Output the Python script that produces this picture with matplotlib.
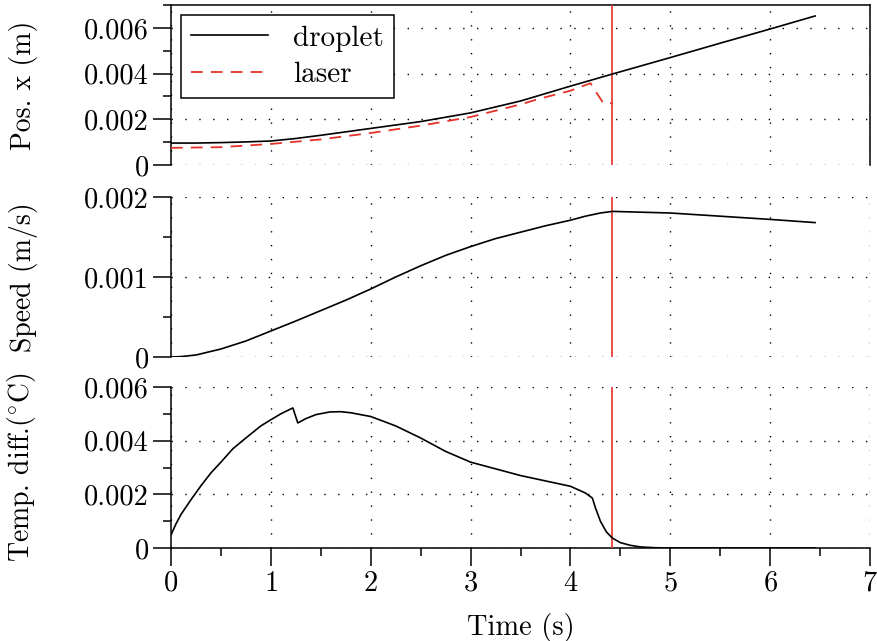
import numpy as np
import matplotlib
matplotlib.use("Agg")
import matplotlib.pyplot as plt
from matplotlib.ticker import MultipleLocator, FuncFormatter

plt.rcParams['font.family'] = ['cmr10', 'DejaVu Serif']
plt.rcParams['mathtext.fontset'] = 'cm'
plt.rcParams['axes.formatter.use_mathtext'] = True
plt.rcParams['font.size'] = 20

# droplet position (m)
t_pos = [0, 0.25, 0.5, 0.75, 1.0, 1.25, 1.5, 1.75, 2.0, 2.5, 3.0, 3.5, 4.0,
         4.42, 5.0, 5.5, 6.0, 6.45]
pos = [0.00096, 0.00096, 0.00098, 0.00101, 0.00105, 0.00116, 0.0013, 0.00145,
       0.0016, 0.0019, 0.00228, 0.0028, 0.00345, 0.00398, 0.0047, 0.00533,
       0.00595, 0.00652]

# laser position (m)
t_laser = [0, 0.5, 1.0, 1.5, 2.0, 2.5, 3.0, 3.5, 3.69, 4.0, 4.2, 4.33, 4.42]
laser = [0.00075, 0.00078, 0.00092, 0.00112, 0.0014, 0.00172, 0.0021, 0.00265,
         0.0029, 0.00325, 0.00358, 0.0027, 0.0027]

# droplet speed (m/s)
t_speed = [0, 0.1, 0.25, 0.4, 0.5, 0.75, 1.0, 1.25, 1.5, 1.75, 2.0, 2.25, 2.5,
           2.75, 3.0, 3.25, 3.5, 3.75, 4.0, 4.15, 4.3, 4.42, 5.0, 5.5, 6.0,
           6.45]
speed = [0, 0.000005, 0.000025, 0.00007, 0.0001, 0.0002, 0.000325, 0.00045,
         0.00058, 0.00071, 0.00085, 0.001, 0.00114, 0.00127, 0.00138, 0.00148,
         0.00156, 0.00164, 0.00171, 0.00176, 0.0018, 0.00182, 0.0018,
         0.00176, 0.00172, 0.00168]

# temperature difference
t_temp = [0, 0.05, 0.1, 0.2, 0.3, 0.4, 0.5, 0.62, 0.75, 0.9, 1.0, 1.1, 1.22,
          1.27, 1.35, 1.45, 1.59, 1.7, 1.8, 2.0, 2.25, 2.5, 2.75, 3.0, 3.25,
          3.5, 3.75, 4.0, 4.15, 4.22, 4.25, 4.3, 4.36, 4.42, 4.5, 4.6, 4.7,
          4.85, 5.0, 6.45]
temp = [0.00049, 0.0009, 0.00125, 0.0018, 0.00232, 0.0028, 0.0032, 0.0037,
        0.0041, 0.00455, 0.00478, 0.005, 0.00522, 0.00466, 0.00482, 0.00497,
        0.00507, 0.00508, 0.00504, 0.0049, 0.00455, 0.0041, 0.0036, 0.0032,
        0.00295, 0.0027, 0.0025, 0.0023, 0.00205, 0.00186, 0.0015, 0.001,
        0.0006, 0.00037, 0.0002, 0.0001, 0.00004, 0.00001, 0.0, 0.0]

t_event = 4.42

ylabels = ["Pos. x (m)", "Speed (m/s)", r"Temp. diff.($^{\circ}$C)"]
ylims = [0.007, 0.002, 0.006]
ymajor = [0.002, 0.001, 0.002]
yminor = [0.001, 0.0005, 0.001]

red = '#e5332a'

fig = plt.figure(figsize=(8.77, 6.41), dpi=100)
W, H = 877, 641
boxes = [(5, 165), (197, 357), (387, 548)]
axes = []
for top, bot in boxes:
    ax = fig.add_axes([171 / W, (H - bot) / H, 699 / W, (bot - top) / H])
    axes.append(ax)

fmt = FuncFormatter(lambda v, p: '0' if abs(v) < 1e-12 else f'{v:.3f}')

for i, ax in enumerate(axes):
    ax.set_xlim(0, 7)
    ax.set_ylim(0, ylims[i])
    ax.xaxis.set_major_locator(MultipleLocator(1))
    ax.xaxis.set_minor_locator(MultipleLocator(0.5))
    ax.yaxis.set_major_locator(MultipleLocator(ymajor[i]))
    ax.yaxis.set_minor_locator(MultipleLocator(yminor[i]))
    ax.yaxis.set_major_formatter(fmt)
    ax.grid(True, which='major', color='black', linewidth=1.0,
            linestyle=(0, (1, 9)))
    ax.set_axisbelow(True)
    ax.tick_params(axis='both', which='major', direction='out', length=13,
                   width=1.1, labelsize=20.5, pad=3)
    ax.tick_params(axis='both', which='minor', direction='out', length=5.5,
                   width=1.1)
    for s in ax.spines.values():
        s.set_linewidth(1.1)
    ax.set_ylabel(ylabels[i], fontsize=20)
    ax.yaxis.set_label_coords(-0.19, 0.5)
    ax.axvline(t_event, color=red, linewidth=1.2, zorder=3)
    ax.patch.set_alpha(0)

ax1, ax2, ax3 = axes
ax1.spines['bottom'].set_visible(False)
ax2.spines['bottom'].set_visible(False)
ax2.spines['top'].set_visible(False)
ax2.spines['right'].set_visible(False)
ax3.spines['top'].set_visible(False)
ax3.spines['right'].set_visible(False)
for ax in (ax1, ax2):
    ax.tick_params(axis='x', which='both', bottom=False, labelbottom=False)
for ax in axes:
    ax.tick_params(axis='x', which='both', top=False)
    ax.tick_params(axis='y', which='both', right=False)

ax1.plot(t_pos, pos, color='black', linewidth=1.2, label='droplet', zorder=4)
ax1.plot(t_laser, laser, color=red, linewidth=1.3, linestyle=(0, (6.5, 4.5)),
         label='laser', zorder=4)
ax2.plot(t_speed, speed, color='black', linewidth=1.2, zorder=4)
ax3.plot(t_temp, temp, color='black', linewidth=1.2, zorder=4)

leg = ax1.legend(loc='upper left', bbox_to_anchor=(0.014, 0.9375),
                 borderaxespad=0, fontsize=21, handlelength=2.65,
                 handletextpad=0.85, labelspacing=0.35, borderpad=0.35,
                 fancybox=False, framealpha=1, edgecolor='black')
leg.get_frame().set_linewidth(1.1)

ax3.set_xlabel("Time (s)", fontsize=20.5, labelpad=12)

fig.savefig("out.png", dpi=100)
